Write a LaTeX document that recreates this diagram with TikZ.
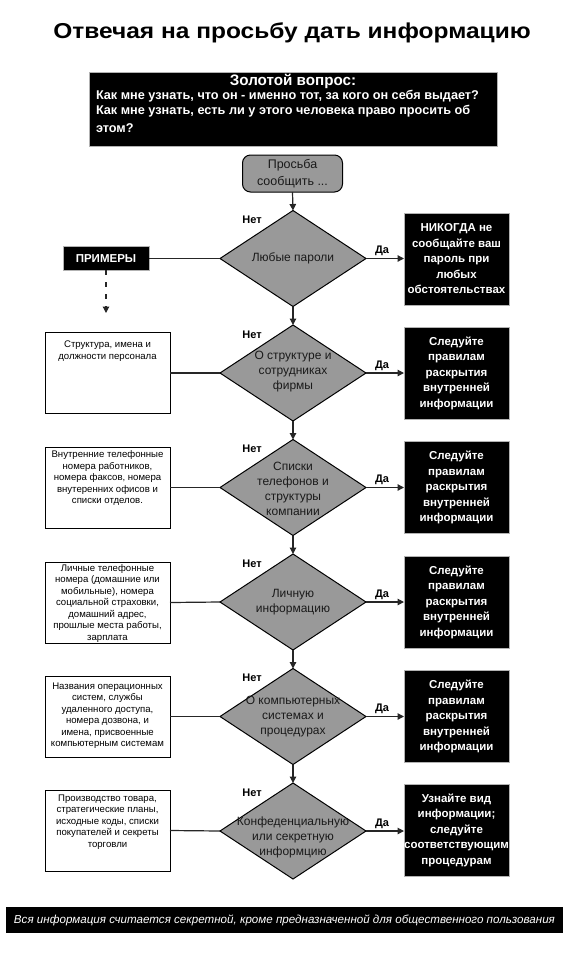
\documentclass[tikz,border=0pt]{standalone}
\usepackage{fontspec}
\setmainfont{Liberation Sans}
\usetikzlibrary{shapes.geometric,arrows.meta}
\definecolor{dgray}{HTML}{999999}
\definecolor{dtxt}{HTML}{1A1A1A}
\begin{document}
\begin{tikzpicture}[x=1pt,y=-1pt,
  every node/.style={inner sep=0pt,outer sep=0pt},
  titlestyle/.style={font=\bfseries\fontsize{24.5}{28}\selectfont},
  blackbox/.style={draw=gray!60,line width=0.6pt,fill=black},
  goldline/.style={anchor=base west,text=white,font=\bfseries\fontsize{12.7}{15.5}\selectfont},
  rbox/.style={blackbox,minimum width=105pt,minimum height=92pt,text=white,align=center,font=\bfseries\fontsize{11.5}{15.5}\selectfont},
  lbox/.style={draw=black,line width=0.8pt,fill=white,minimum width=125pt,minimum height=81pt},
  ltext/.style={anchor=north,align=center,font=\fontsize{9.6}{11.5}\selectfont},
  dia/.style={shape=diamond,draw=black,line width=1pt,fill=dgray,minimum width=146pt,minimum height=96pt},
  dtext/.style={align=center,text=dtxt,font=\fontsize{12}{15}\selectfont},
  lab/.style={font=\bfseries\fontsize{11}{13}\selectfont},
  conn/.style={line width=1.2pt,draw=black!85},
  arr/.style={conn,-{Triangle[length=6.5pt,width=6.5pt]}}
]
\useasboundingbox (0,0) rectangle (568,970);

\node[titlestyle,anchor=base] (title) at (292,38.5) {\scalebox{1}[0.88]{Отвечая на просьбу дать информацию}};

\node[blackbox,minimum width=408pt,minimum height=74pt] (gold) at (293,109) {};
\node[anchor=base,text=white,font=\bfseries\fontsize{15.2}{17}\selectfont] (goldhead) at (293,85) {Золотой вопрос:};
\node[goldline] (gl1) at (96,99) {Как мне узнать, что он - именно тот, за кого он себя выдает?};
\node[goldline] (gl2) at (96,114.5) {Как мне узнать, есть ли у этого человека право просить об};
\node[goldline] (gl3) at (96,132) {этом?};

\node[draw=black,line width=1pt,fill=dgray,rounded corners=8pt,minimum width=100pt,minimum height=37pt,
  align=center,text=dtxt,font=\fontsize{12.5}{17.5}\selectfont] (start) at (292.5,173.5) {Просьба\\сообщить ...};

% diamonds
\node[dia] (d1) at (293,258.5) {};
\node[dia] (d2) at (293,373) {};
\node[dia] (d3) at (293,487.5) {};
\node[dia] (d4) at (293,602) {};
\node[dia] (d5) at (293,716.5) {};
\node[dia] (d6) at (293,831) {};
\node[dtext] (t1) at (293,258.5) {Любые пароли};
\node[dtext] (t2) at (293,372) {О структуре и\\сотрудниках\\фирмы};
\node[dtext] (t3) at (293,489) {Списки\\телефонов и\\структуры\\компании};
\node[dtext] (t4) at (293,602) {Личную\\информацию};
\node[dtext] (t5) at (293,716.5) {О компьютерных\\системах и\\процедурах};
\node[dtext] (t6) at (293,837) {Конфеденциальную\\или секретную\\информцию};

% right boxes
\node[rbox] (r1) at (456.5,259) {НИКОГДА не\\сообщайте ваш\\пароль при\\любых\\обстоятельствах};
\node[rbox] (r2) at (456.5,373) {Следуйте\\правилам\\раскрытия\\внутренней\\информации};
\node[rbox] (r3) at (456.5,487.5) {Следуйте\\правилам\\раскрытия\\внутренней\\информации};
\node[rbox] (r4) at (456.5,602) {Следуйте\\правилам\\раскрытия\\внутренней\\информации};
\node[rbox] (r5) at (456.5,716.5) {Следуйте\\правилам\\раскрытия\\внутренней\\информации};
\node[rbox] (r6) at (456.5,830) {Узнайте вид\\информации;\\следуйте\\соответствующим\\процедурам};

% examples
\node[blackbox,minimum width=86pt,minimum height=23.5pt,text=white,font=\bfseries\fontsize{11.5}{13}\selectfont] (ex) at (106,258.5) {ПРИМЕРЫ};
\coordinate (exend) at (106,313);
\draw[arr,dash pattern=on 5pt off 7pt] (ex.south) -- (exend);

% left boxes
\node[lbox] (l2) at (107.5,373) {};
\node[lbox] (l3) at (107.5,487.5) {};
\node[lbox] (l4) at (107.5,602.5) {};
\node[lbox] (l5) at (107.5,716.5) {};
\node[lbox] (l6) at (107.5,830.5) {};
\node[ltext] (lt2) at (107.5,341) {Структура, имена и\\должности персонала};
\node[ltext] (lt3) at (107.5,451) {Внутренние телефонные\\номера работников,\\номера факсов, номера\\внутеренних офисов и\\списки отделов.};
\node[ltext] (lt4) at (107.5,564.5) {Личные телефонные\\номера (домашние или\\мобильные), номера\\социальной страховки,\\домашний адрес,\\прошлые места работы,\\зарплата};
\node[ltext] (lt5) at (107.5,682.5) {Названия операционных\\систем, службы\\удаленного доступа,\\номера дозвона, и\\имена, присвоенные\\компьютерным системам};
\node[ltext] (lt6) at (107.5,794.5) {Производство товара,\\стратегические планы,\\исходные коды, списки\\покупателей и секреты\\торговли};

% horizontal connectors
\draw[conn] (ex.east) -- (d1.west);
\draw[conn] (l2.east) -- (d2.west);
\draw[conn] (l3.east) -- (d3.west);
\draw[conn] (l4.east) -- (d4.west);
\draw[conn] (l5.east) -- (d5.west);
\draw[conn] (l6.east) -- (d6.west);

% yes arrows
\draw[arr] (d1.east) -- node[lab,above=2.5pt,xshift=-3pt] (y1) {Да} (r1.west |- d1.east);
\draw[arr] (d2.east) -- node[lab,above=2.5pt,xshift=-3pt] (y2) {Да} (r2.west |- d2.east);
\draw[arr] (d3.east) -- node[lab,above=2.5pt,xshift=-3pt] (y3) {Да} (r3.west |- d3.east);
\draw[arr] (d4.east) -- node[lab,above=2.5pt,xshift=-3pt] (y4) {Да} (r4.west |- d4.east);
\draw[arr] (d5.east) -- node[lab,above=2.5pt,xshift=-3pt] (y5) {Да} (r5.west |- d5.east);
\draw[arr] (d6.east) -- node[lab,above=2.5pt,xshift=-3pt] (y6) {Да} (r6.west |- d6.east);

% no arrows
\draw[arr] (start.south) -- (d1.north);
\draw[arr] (d1.south) -- (d2.north);
\draw[arr] (d2.south) -- (d3.north);
\draw[arr] (d3.south) -- (d4.north);
\draw[arr] (d4.south) -- (d5.north);
\draw[arr] (d5.south) -- (d6.north);
\node[lab] (n1) at (252,220) {Нет};
\node[lab] (n2) at (252,334.5) {Нет};
\node[lab] (n3) at (252,449) {Нет};
\node[lab] (n4) at (252,563.5) {Нет};
\node[lab] (n5) at (252,678) {Нет};
\node[lab] (n6) at (252,792.5) {Нет};

% bottom bar
\node[fill=black,minimum width=557pt,minimum height=26pt,text=white,font=\itshape\fontsize{11.6}{13}\selectfont] (bar) at (284.5,920)
  {Вся информация считается секретной, кроме предназначенной для общественного пользования};
\end{tikzpicture}
\end{document}
